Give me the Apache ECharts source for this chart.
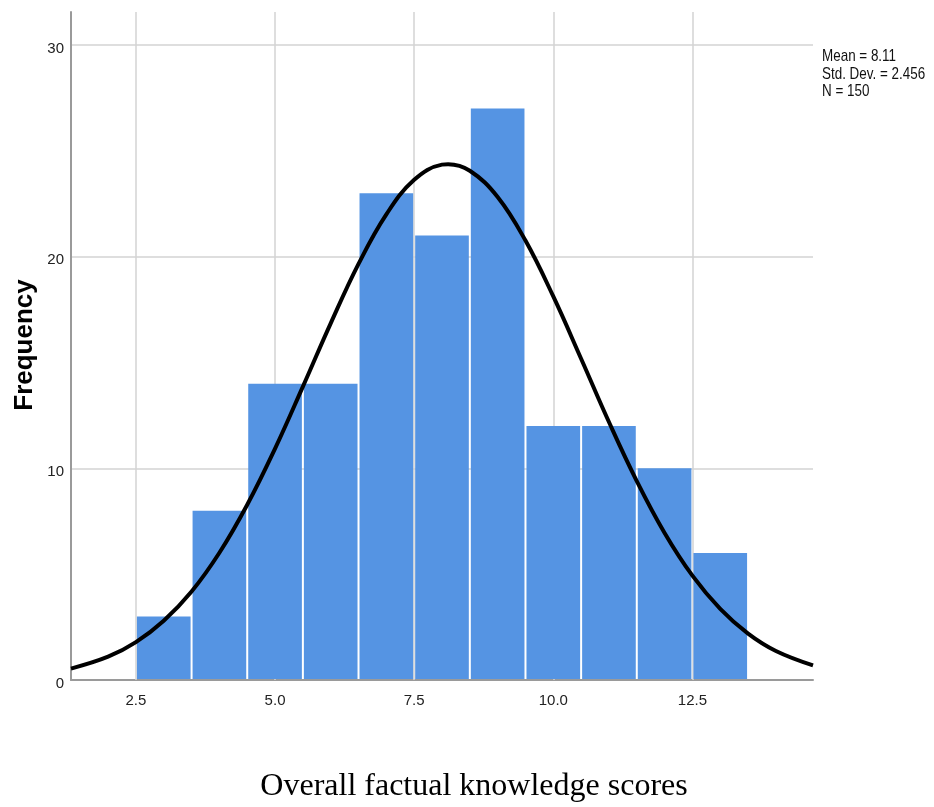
<!DOCTYPE html>
<html>
<head>
<meta charset="utf-8">
<style>
    html, body { margin: 0; padding: 0; background: #ffffff; }
    #chart { width: 934px; height: 807px; }
</style>
<script src="https://cdn.jsdelivr.net/npm/echarts@6/dist/echarts.min.js"></script>
</head>
<body>
<div id="chart"></div>
<script>
    // histogram bins (lower edge, upper edge) and frequencies
    const binLower = [2.5, 3.5, 4.5, 5.5, 6.5, 7.5, 8.5, 9.5, 10.5, 11.5, 12.5];
    const binUpper = [3.5, 4.5, 5.5, 6.5, 7.5, 8.5, 9.5, 10.5, 11.5, 12.5, 13.5];
    const counts = [3, 8, 14, 14, 23, 21, 27, 12, 12, 10, 6];

    // fitted normal curve
    const curveX = [1.333, 2, 2.5, 3, 3.5, 4, 4.5, 5, 5.5, 6, 6.5, 7, 7.5, 8, 8.11, 8.5, 9, 9.5, 10, 10.5, 11, 11.5, 12, 12.5, 13, 13.5, 14, 14.667];
    const curveY = [0.54, 1.10, 1.79, 2.80, 4.18, 6.01, 8.28, 10.93, 13.86, 16.85, 19.66, 22.00, 23.63, 24.35, 24.37, 24.06, 22.82, 20.76, 18.12, 15.18, 12.19, 9.40, 6.95, 4.93, 3.36, 2.19, 1.37, 0.69];

    // axis ticks
    const xTickValues = [2.5, 5.0, 7.5, 10.0, 12.5];
    const yTickValues = [0, 10, 20, 30];

    const statsLines = ['Mean = 8.11', 'Std. Dev. = 2.456', 'N = 150'];

    const barColor = '#5594e3';
    const gridColor = '#d3d3d3';
    const axisColor = '#9a9a9a';
    const sansFont = '"Liberation Sans", Arial, sans-serif';

    const chart = echarts.init(document.getElementById('chart'));

    const barData = binLower.map(function (lo, i) {
        return [lo, binUpper[i], counts[i]];
    });
    const curveData = curveX.map(function (x, i) {
        return [x, curveY[i]];
    });

    const option = {
        backgroundColor: '#ffffff',
        animation: false,
        grid: {
            left: 71,
            right: 121,
            top: 12,
            bottom: 127
        },
        xAxis: {
            type: 'value',
            min: 4 / 3,
            max: 44 / 3,
            interval: 1 / 6,
            axisLine: { show: true, lineStyle: { color: axisColor, width: 2 } },
            axisTick: { show: false },
            splitLine: { show: false },
            axisLabel: {
                margin: 13,
                color: '#222',
                fontSize: 15,
                fontFamily: sansFont,
                formatter: function (v) {
                    for (let i = 0; i < xTickValues.length; i++) {
                        if (Math.abs(v - xTickValues[i]) < 1e-6) {
                            return xTickValues[i].toFixed(1);
                        }
                    }
                    return '';
                }
            }
        },
        yAxis: {
            type: 'value',
            min: 0,
            max: 31.56,
            interval: 10,
            axisLine: { show: true, lineStyle: { color: axisColor, width: 2 } },
            axisTick: { show: false },
            splitLine: {
                show: true,
                showMinLine: false,
                showMaxLine: false,
                lineStyle: { color: gridColor, width: 1.5 }
            },
            axisLabel: {
                margin: 7,
                color: '#222',
                fontSize: 15,
                fontFamily: sansFont,
                showMaxLabel: false,
                rich: {
                    lbl: {
                        color: '#222',
                        fontSize: 15,
                        fontFamily: sansFont,
                        padding: [7, 0, 0, 0]
                    }
                },
                formatter: function (v) {
                    return yTickValues.indexOf(v) >= 0 ? '{lbl|' + v + '}' : '';
                }
            }
        },
        series: [
            {
                // vertical grid lines at the labelled x values
                type: 'line',
                data: [],
                z: 1,
                markLine: {
                    z: 1,
                    silent: true,
                    symbol: 'none',
                    label: { show: false },
                    lineStyle: { color: gridColor, width: 1.5, type: 'solid' },
                    data: xTickValues.map(function (v) { return { xAxis: v }; })
                }
            },
            {
                type: 'custom',
                z: 2,
                data: barData,
                encode: { x: [0, 1], y: 2 },
                renderItem: function (params, api) {
                    const p0 = api.coord([api.value(0), 0]);
                    const p1 = api.coord([api.value(1), api.value(2)]);
                    return {
                        type: 'rect',
                        shape: {
                            x: p0[0] + 1,
                            y: p1[1],
                            width: p1[0] - p0[0] - 2,
                            height: p0[1] - p1[1] - 1
                        },
                        style: { fill: barColor }
                    };
                }
            },
            {
                type: 'line',
                z: 5,
                data: curveData,
                smooth: 0.4,
                symbol: 'none',
                lineStyle: { color: '#000', width: 4 }
            }
        ],
        graphic: [
            {
                type: 'text',
                x: 822,
                y: 48,
                scaleX: 0.79,
                style: {
                    text: statsLines.join('\n'),
                    fill: '#111',
                    font: '17px ' + sansFont,
                    lineHeight: 17.5
                }
            },
            {
                type: 'text',
                x: 25,
                y: 345,
                rotation: Math.PI / 2,
                style: {
                    text: 'Frequency',
                    fill: '#000',
                    font: 'bold 26px ' + sansFont,
                    align: 'center',
                    verticalAlign: 'middle'
                }
            },
            {
                type: 'text',
                x: 474,
                y: 787,
                style: {
                    text: 'Overall factual knowledge scores',
                    fill: '#000',
                    font: '32px "Liberation Serif", "Times New Roman", serif',
                    align: 'center',
                    verticalAlign: 'middle'
                }
            }
        ]
    };

    chart.setOption(option);

    window.onresize = function () {
        chart.resize();
    };
</script>
</body>
</html>
